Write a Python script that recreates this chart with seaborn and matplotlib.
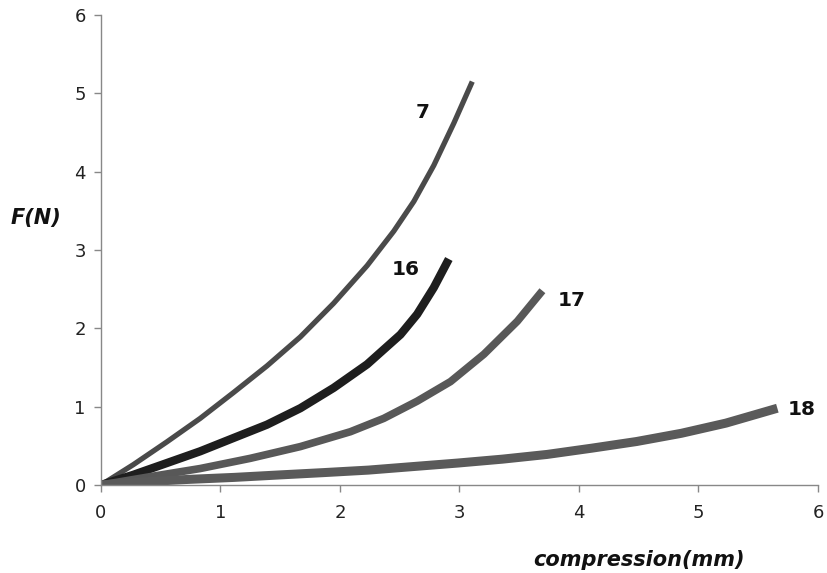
import matplotlib
matplotlib.use("Agg")
import matplotlib.pyplot as plt
import seaborn as sns
import pandas as pd

sns.set_theme(style="white")
plt.rcParams["font.family"] = ["DejaVu Sans"]

# Force (N) versus compression (mm) for four samples
x_7 = [0.0, 0.271, 0.551, 0.83, 1.109, 1.389, 1.668, 1.947, 2.227, 2.45, 2.618, 2.785, 2.953, 3.107]
f_7 = [0.0, 0.26, 0.55, 0.85, 1.18, 1.52, 1.89, 2.32, 2.80, 3.24, 3.62, 4.08, 4.62, 5.15]

x_16 = [0.0, 0.271, 0.551, 0.83, 1.109, 1.389, 1.668, 1.947, 2.227, 2.506, 2.646, 2.785, 2.911]
f_16 = [0.0, 0.13, 0.28, 0.43, 0.60, 0.77, 0.98, 1.24, 1.54, 1.92, 2.18, 2.52, 2.885]

x_17 = [0.0, 0.411, 0.83, 1.249, 1.668, 2.087, 2.366, 2.646, 2.925, 3.205, 3.484, 3.694]
f_17 = [0.0, 0.106, 0.21, 0.34, 0.49, 0.68, 0.85, 1.07, 1.32, 1.67, 2.09, 2.48]

x_18 = [0.0, 0.366, 0.74, 1.115, 1.489, 1.863, 2.237, 2.61, 2.985, 3.36, 3.733, 4.107,
        4.482, 4.857, 5.23, 5.66]
f_18 = [0.0, 0.042, 0.072, 0.097, 0.128, 0.158, 0.19, 0.235, 0.28, 0.33, 0.39, 0.47,
        0.555, 0.66, 0.79, 0.98]

sample_names = ["7", "16", "17", "18"]
x_ticks = [0, 1, 2, 3, 4, 5, 6]
y_ticks = [0, 1, 2, 3, 4, 5, 6]

series = {
    "7": (x_7, f_7),
    "16": (x_16, f_16),
    "17": (x_17, f_17),
    "18": (x_18, f_18),
}
styles = {
    "7": dict(color="#4a4a4a", lw=3.8),
    "16": dict(color="#1e1e1e", lw=6.0),
    "17": dict(color="#585858", lw=5.5),
    "18": dict(color="#5a5a5a", lw=6.5),
}
label_pos = {
    "7": (2.69, 4.76),
    "16": (2.55, 2.75),
    "17": (3.94, 2.36),
    "18": (5.86, 0.97),
}

fig = plt.figure(figsize=(8.27, 5.73), dpi=100)
ax = fig.add_axes([0.1221, 0.1536, 0.867, 0.8202])

for name in sample_names:
    xs, fs = series[name]
    df = pd.DataFrame({"compression": xs, "F": fs})
    st = styles[name]
    sns.lineplot(data=df, x="compression", y="F", ax=ax, color=st["color"],
                 linewidth=st["lw"], sort=False, estimator=None,
                 solid_capstyle="butt", solid_joinstyle="round")
    lx, ly = label_pos[name]
    ax.text(lx, ly, name, fontsize=14.5, fontweight="bold", color="#111111",
            ha="center", va="center")

ax.set_xlim(0, 6)
ax.set_ylim(0, 6)
ax.set_xticks(x_ticks)
ax.set_yticks(y_ticks)
ax.tick_params(axis="both", which="major", direction="out", length=5, width=1,
               color="#888888", labelsize=13, labelcolor="#222222", pad=6,
               bottom=True, left=True)
ax.tick_params(axis="x", pad=9)

for side in ["top", "right"]:
    ax.spines[side].set_visible(False)
for side in ["left", "bottom"]:
    ax.spines[side].set_color("#888888")
    ax.spines[side].set_linewidth(1.0)

ax.set_xlabel("compression(mm)", fontsize=15, fontweight="bold",
              fontstyle="italic", color="#111111")
ax.xaxis.set_label_coords(0.750, -0.138)
ax.set_ylabel("F(N)", fontsize=15, fontweight="bold", fontstyle="italic",
              color="#111111", rotation=0, ha="center", va="center")
ax.yaxis.set_label_coords(-0.091, 0.568)

ax.grid(False)
fig.savefig("out.png", dpi=100, facecolor="white")
